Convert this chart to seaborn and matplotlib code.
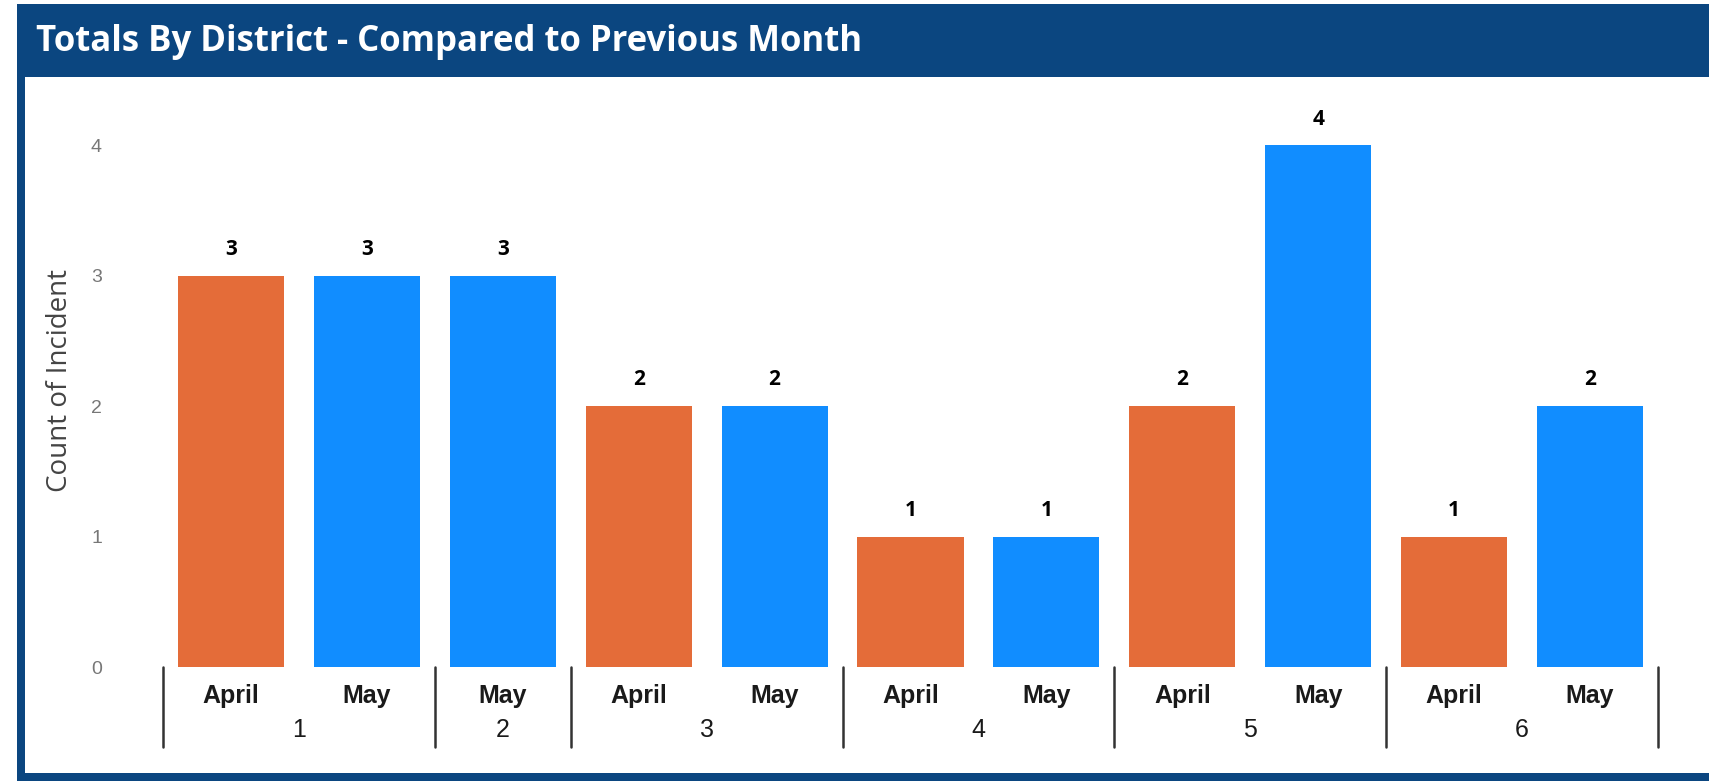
import pandas as pd
import matplotlib.pyplot as plt
import seaborn as sns
from matplotlib.patches import Rectangle
from matplotlib.transforms import blended_transform_factory

# data
districts = ["1", "1", "2", "3", "3", "4", "4", "5", "5", "6", "6"]
months = ["April", "May", "May", "April", "May", "April", "May", "April", "May", "April", "May"]
counts = [3, 3, 3, 2, 2, 1, 1, 2, 4, 1, 2]

month_colors = {"April": "#E46C39", "May": "#118DFF"}
frame_col = "#0B4680"

df = pd.DataFrame({"district": districts, "month": months, "count": counts})
df["slot"] = [f"{d}-{m}-{i}" for i, (d, m) in enumerate(zip(districts, months))]

sns.set_theme(style="white")
plt.rcParams["font.family"] = ["Liberation Sans", "DejaVu Sans"]

fig = plt.figure(figsize=(17.09, 7.81), dpi=100)
W, H = 1709, 781

# outer frame + title bar
fig.patches.append(Rectangle((17 / W, 1 - 77 / H), 1, 73 / H, transform=fig.transFigure,
                             facecolor=frame_col, edgecolor="none", zorder=1))
fig.patches.append(Rectangle((17 / W, 0), 8 / W, 1 - 4 / H, transform=fig.transFigure,
                             facecolor=frame_col, edgecolor="none", zorder=1))
fig.patches.append(Rectangle((17 / W, 0), 1, 8 / H, transform=fig.transFigure,
                             facecolor=frame_col, edgecolor="none", zorder=1))
fig.text(36 / W, 1 - 42 / H, "Totals By District - Compared to Previous Month",
         color="white", fontsize=25, fontweight="bold", family=["Open Sans", "DejaVu Sans"],
         va="center", ha="left", zorder=2)

ax = fig.add_axes([163 / W, (H - 667) / H, (1658 - 163) / W, (667 - 93) / H])
ax.set_zorder(5)
ax.set_facecolor("none")

sns.barplot(data=df, x="slot", y="count", hue="month", palette=month_colors,
            dodge=False, width=0.78, order=list(df["slot"]), legend=False, ax=ax,
            edgecolor="none", saturation=1)

ax.set_xlim(-0.5, len(df) - 0.5)
ax.set_ylim(0, 4.4)
ax.set_yticks([0, 1, 2, 3, 4])
ax.tick_params(axis="y", labelsize=14, labelcolor="#777777", length=0, pad=44)
ax.set_xticks([])
ax.set_xlabel("")
ax.set_ylabel("Count of Incident", fontsize=20, color="#444444", labelpad=12,
              family=["Open Sans", "DejaVu Sans"])
for s in ax.spines.values():
    s.set_visible(False)

# value labels
for i, c in enumerate(counts):
    ax.text(i, c + 0.12, str(c), ha="center", va="bottom", fontsize=15, fontweight="bold",
            color="black", family=["Open Sans", "DejaVu Sans"])

# hierarchical x labels
tr = blended_transform_factory(ax.transData, ax.transAxes)
for i, m in enumerate(months):
    ax.text(i, -0.05, m, transform=tr, ha="center", va="center", fontsize=18,
            fontweight="bold", color="#1a1a1a", clip_on=False)

groups = []
for i, d in enumerate(districts):
    if groups and groups[-1][0] == d:
        groups[-1][2] = i
    else:
        groups.append([d, i, i])

for d, a, b in groups:
    ax.text((a + b) / 2, -0.11, d, transform=tr, ha="center", va="center",
            fontsize=18, color="#1a1a1a", clip_on=False)
    ax.plot([a - 0.5, a - 0.5], [0, -0.14], transform=tr, color="#333333",
            lw=1.8, clip_on=False)
ax.plot([len(df) - 0.5] * 2, [0, -0.14], transform=tr, color="#333333",
        lw=1.8, clip_on=False)

fig.savefig("out.png", dpi=100)
